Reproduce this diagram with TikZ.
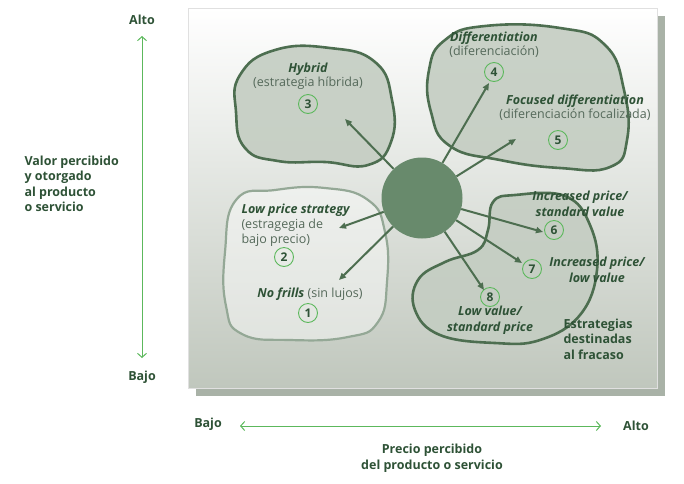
\documentclass[tikz,border=0pt]{standalone}
\usepackage{fontspec}
\setmainfont{Open Sans}
\usepackage{tikz}
\usetikzlibrary{arrows.meta,positioning}
\definecolor{darkgreen}{HTML}{2E5236}
\definecolor{edgegreen}{HTML}{4D6E50}
\definecolor{hubgreen}{HTML}{688A6C}
\definecolor{axisgreen}{HTML}{5CB85C}
\definecolor{blobfill}{HTML}{C4CDC2}
\definecolor{panelgrey}{HTML}{C0C7BD}
\definecolor{softtext}{HTML}{55695A}
\definecolor{shadowgrey}{HTML}{A9B2A7}

\begin{document}
\begin{tikzpicture}[
    x=1pt,y=-1pt,
    >=Stealth,
    font=\fontsize{12.5}{15.5}\selectfont,
    blob/.style={draw=edgegreen,line width=2.6pt,fill=blobfill,fill opacity=0.9},
    lightblob/.style={draw=edgegreen!60,line width=2.2pt,fill=white,fill opacity=0.45},
    num/.style={circle,draw=axisgreen,line width=0.9pt,inner sep=0pt,
      minimum size=19pt,font=\fontsize{12}{12}\selectfont\bfseries,text=darkgreen},
    title/.style={font=\fontsize{12.5}{15.5}\selectfont\bfseries\itshape,text=darkgreen,align=center},
    sub/.style={text=softtext,align=center},
    axlabel/.style={font=\fontsize{12.5}{15.5}\selectfont\bfseries,text=darkgreen},
    spoke/.style={line width=2pt,draw=edgegreen,
      arrows={-{Triangle[length=7pt,width=6pt]}}},
    axis/.style={{Straight Barb[length=4pt,width=9pt]}-{Straight Barb[length=4pt,width=9pt]},
      line width=1pt,draw=axisgreen}]
  \useasboundingbox (0,0) rectangle (684,483);

  % panel with shadow
  \fill[shadowgrey] (196,16) rectangle (665,396);
  \shade[top color=white,middle color=panelgrey!50,bottom color=panelgrey,
    draw=black!12] (188,8) rectangle (657,388);

  % strategy areas
  \filldraw[blob] plot[smooth cycle,tension=0.8] coordinates
    {(240,75) (275,50) (330,48) (375,62) (392,100) (391,142) (368,165)
     (325,162) (278,161) (245,148) (236,112)};
  \filldraw[blob] plot[smooth cycle,tension=0.8] coordinates
    {(445,40) (485,26) (560,28) (605,45) (624,90) (627,140) (610,167)
     (560,168) (500,160) (450,146) (431,112) (429,70)};
  \filldraw[lightblob] plot[smooth cycle,tension=0.8] coordinates
    {(236,200) (275,190) (325,188) (368,200) (385,232) (387,282) (378,322)
     (348,337) (290,340) (242,334) (226,306) (225,252)};
  \filldraw[blob] plot[smooth cycle,tension=0.7] coordinates
    {(493,202) (515,195) (565,196) (590,225) (597,270) (580,315) (540,340)
     (495,343) (440,335) (415,310) (418,280) (445,262) (478,250) (488,230)};

  % hub
  \node[circle,fill=hubgreen,minimum size=81pt,inner sep=0pt] (hub) at (422,198) {};

  % numbered strategies
  \node[num] (n1) at (308,313) {1};
  \node[num] (n2) at (284,257) {2};
  \node[num] (n3) at (308,104) {3};
  \node[num] (n4) at (494,72) {4};
  \node[num] (n5) at (558,140) {5};
  \node[num] (n6) at (554,230) {6};
  \node[num] (n7) at (532,269) {7};
  \node[num] (n8) at (490,297) {8};

  \node[title] (hyb) at (308,69) {Hybrid};
  \node[sub,below=-5pt of hyb] (hybsub) {(estrategia híbrida)};
  \node[title] (dif) at (494,38) {Differentiation};
  \node[sub,below=-5pt of dif] (difsub) {(diferenciación)};
  \node[title] (foc) at (575,101) {Focused differentiation};
  \node[sub,below=-5pt of foc] (focsub) {(diferenciación focalizada)};
  \node[title,anchor=west] (low) at (238,210) {Low price strategy};
  \node[sub,anchor=north west,align=left] (lowsub) at (238,215)
    {(estragegia de\\bajo precio)};
  \node (nofr) at (310,294) {\textcolor{darkgreen}{\bfseries\itshape No frills}
    \textcolor{softtext}{(sin lujos)}};
  \node[title] (inc6) at (580,204) {Increased price/\\standard value};
  \node[title] (inc7) at (597,270) {Increased price/\\low value};
  \node[title] (low8) at (490,320) {Low value/\\standard price};
  \node[axlabel,anchor=north west,align=left] (fail) at (560,315)
    {Estrategias\\destinadas\\al fracaso};

  % arrow tips
  \coordinate (t1) at (339,280);
  \coordinate (t2) at (339,228);
  \coordinate (t3) at (345,119);
  \coordinate (t4) at (489,83);
  \coordinate (t5) at (516,139);
  \coordinate (t6) at (543,232);
  \coordinate (t7) at (522,263);
  \coordinate (t8) at (484,290);
  \foreach \t in {1,...,8}
    \draw[spoke] (hub) -- (t\t);

  % axes
  \node[axlabel] (vhi) at (142,20) {Alto};
  \node[axlabel] (vlo) at (142,377) {Bajo};
  \coordinate (va) at (142,36);
  \coordinate (vb) at (142,358);
  \draw[axis] (va) -- (vb);
  \node[axlabel,anchor=north west,align=left] (vtxt) at (21,152)
    {Valor percibido\\y otorgado\\al producto\\o servicio};
  \node[axlabel] (hlo) at (208,424) {Bajo};
  \node[axlabel] (hhi) at (636,426) {Alto};
  \coordinate (ha) at (240,426);
  \coordinate (hb) at (601,426);
  \draw[axis] (ha) -- (hb);
  \node[axlabel,align=center] (htxt) at (432,458)
    {Precio percibido\\del producto o servicio};
\end{tikzpicture}
\end{document}
